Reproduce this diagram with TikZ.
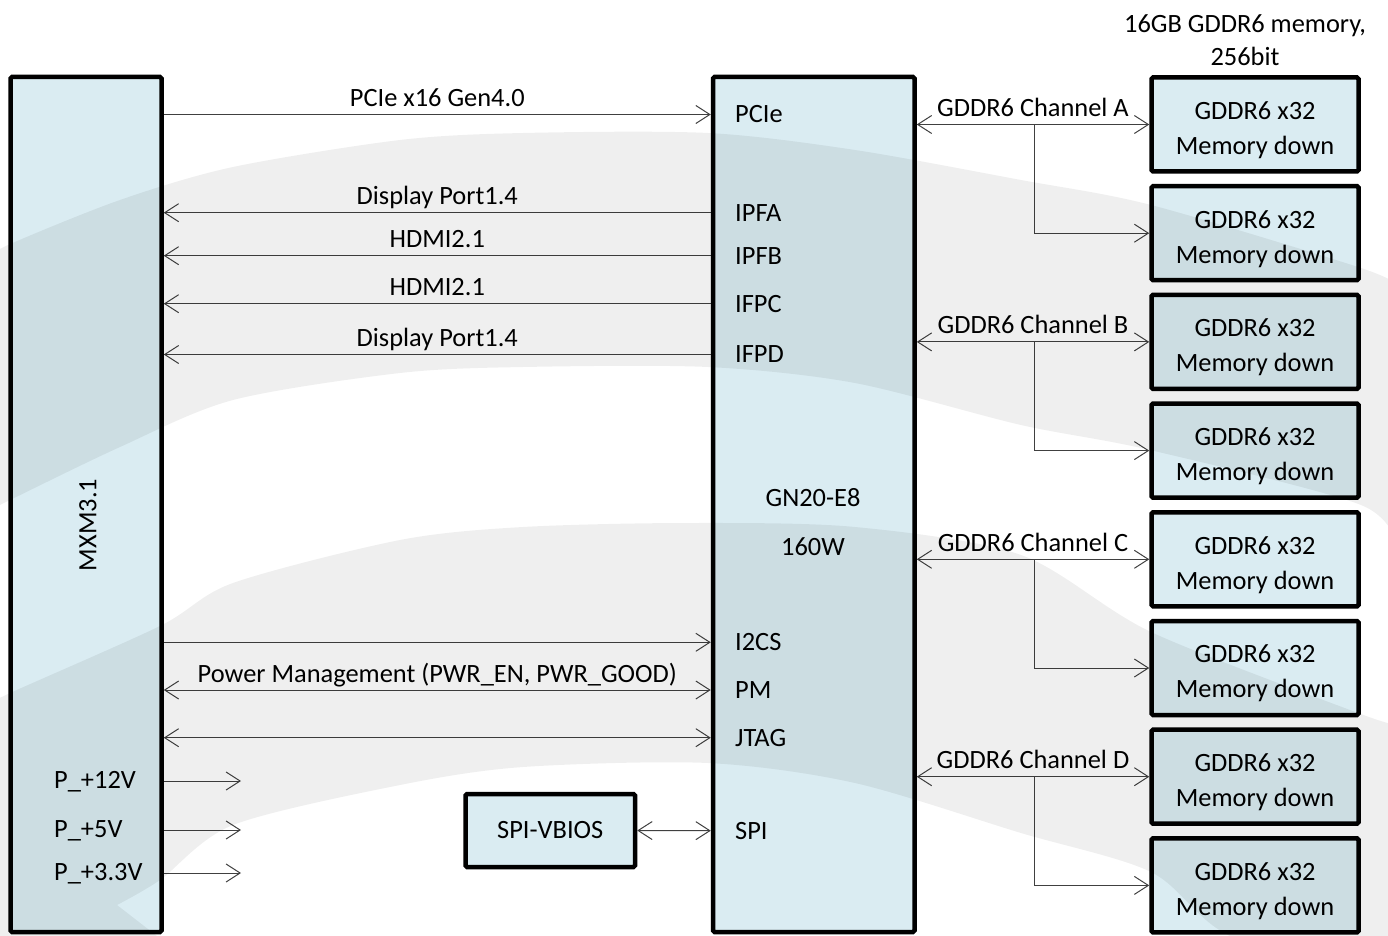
\documentclass[tikz,border=0pt]{standalone}
\usepackage{fontspec}
\setmainfont{Carlito}
\usetikzlibrary{
  arrows.meta,
  calc,
  positioning
}
\definecolor{chipblue}{RGB}{218,236,242}
\tikzset{
  blk/.style={draw=black,line width=4.5pt,fill=chipblue,rounded corners=1.5pt,inner sep=0pt},
  membox/.style={blk,minimum width=207pt,minimum height=94pt,align=center},
  sig/.style={draw=black!75,line width=1pt},
  lbl/.style={anchor=base,yshift=8pt,inner sep=0pt},
  port/.style={anchor=west,inner sep=0pt},
  wmark/.style={fill=black,fill opacity=0.063}
}

\begin{document}
\begin{tikzpicture}[x=1pt,y=-1pt,>={Straight Barb[length=14pt,width=18pt]},
    font=\fontsize{26.4}{35}\selectfont]
      \useasboundingbox (0,0) rectangle (1388,936);

      % blocks
      \node[blk,minimum width=151pt,minimum height=855pt] (mxm) at (86,504.5) {};
      \node[rotate=90] (mxmname) at (88,525) {MXM3.1};
      \node[blk,minimum width=201.5pt,minimum height=855pt] (gpu) at (813.75,504.5) {};
      \node (gpuname) at (813,498) {GN20-E8};
      \node (gpupwr) at (813,547) {160W};
      \node[blk,minimum width=169.5pt,minimum height=73pt] (vbios) at (550.25,830.5) {SPI-VBIOS};
      \foreach \k in {1,...,8}
        \node[membox] (mem\k) at (1255,{124.5+108.7*(\k-1)}) {\rule{0pt}{29pt}GDDR6 x32\\Memory down};
      \node[align=center,font=\fontsize{26.4}{33}\selectfont] (memtitle) at (1245,40)
        {16GB GDDR6 memory,\\256bit};

      % ports on the GPU
      \foreach \nm/\txt/\y in {pcie/PCIe/114.5, ipfa/IPFA/212.7, ipfb/IPFB/255.7,
          ifpc/IFPC/303.7, ifpd/IFPD/354.5, i2cs/I2CS/642.3, pm/PM/690,
          jtag/JTAG/737.7, spi/SPI/830.7}
        \node[port] (\nm) at (735,\y) {\txt};

      % MXM <-> GPU
      \draw[sig,->] (mxm.east |- pcie.west) -- node[lbl] (pcielbl) {PCIe x16 Gen4.0} (gpu.west |- pcie.west);
      \draw[sig,<-] (mxm.east |- ipfa.west) -- node[lbl] (ipfalbl) {Display Port1.4} (gpu.west |- ipfa.west);
      \draw[sig,<-] (mxm.east |- ipfb.west) -- node[lbl] (ipfblbl) {HDMI2.1} (gpu.west |- ipfb.west);
      \draw[sig,<-] (mxm.east |- ifpc.west) -- node[lbl] (ifpclbl) {HDMI2.1} (gpu.west |- ifpc.west);
      \draw[sig,<-] (mxm.east |- ifpd.west) -- node[lbl] (ifpdlbl) {Display Port1.4} (gpu.west |- ifpd.west);
      \draw[sig,->] (mxm.east |- i2cs.west) -- (gpu.west |- i2cs.west);
      \draw[sig,<->] (mxm.east |- pm.west) -- node[lbl] (pmlbl) {Power Management (PWR\_EN, PWR\_GOOD)} (gpu.west |- pm.west);
      \draw[sig,<->] (mxm.east |- jtag.west) -- (gpu.west |- jtag.west);
      \draw[sig,<->] (vbios.east) -- (gpu.west |- spi.west);

      % power rails
      \foreach \nm/\txt/\y in {p12/P\_+12V/781, p5/P\_+5V/830, p33/P\_+3.3V/873} {
        \node[anchor=base west,inner sep=0pt] (\nm) at (54,{\y+7}) {\txt};
        \coordinate (\nm end) at (241,\y);
        \draw[sig,->] (mxm.east |- \nm end) -- (\nm end);
      }

      % memory channels
      \coordinate (branchx) at (1034,0);
      \foreach \ch/\a/\b in {A/1/2, B/3/4, C/5/6, D/7/8} {
        \draw[sig,<->] (gpu.east |- mem\a.west) -- node[lbl] (ch\ch) {GDDR6 Channel \ch} (mem\a.west);
        \draw[sig,->] (mem\a.west -| branchx) |- (mem\b.west);
      }

      % watermark swoosh
      \fill[wmark] plot[smooth] coordinates {(-10,258) (8,245) (120,200) (233,167) (400,140)
          (523,133) (708,133) (855,150) (1021,180) (1151,205) (1358,267) (1398,285)}
        -- plot[smooth] coordinates {(1398,550) (1361,505) (1150,450) (1021,425) (855,383)
          (708,367) (523,367) (400,373) (233,400) (120,447) (8,501) (-10,510)} -- cycle;
      \fill[wmark] plot[smooth] coordinates {(-10,705) (8,694) (160,626) (233,583) (400,540)
          (523,527) (688,523) (855,527) (1021,555) (1151,632) (1358,713) (1398,725)}
        -- plot[smooth] coordinates {(1398,990) (1230,936) (1151,872) (1021,833) (855,783)
          (708,763) (523,767) (400,785) (233,825) (160,880) (117,905)}
        -- (175,950) -- (-10,950) -- cycle;
    \end{tikzpicture}
\end{document}
